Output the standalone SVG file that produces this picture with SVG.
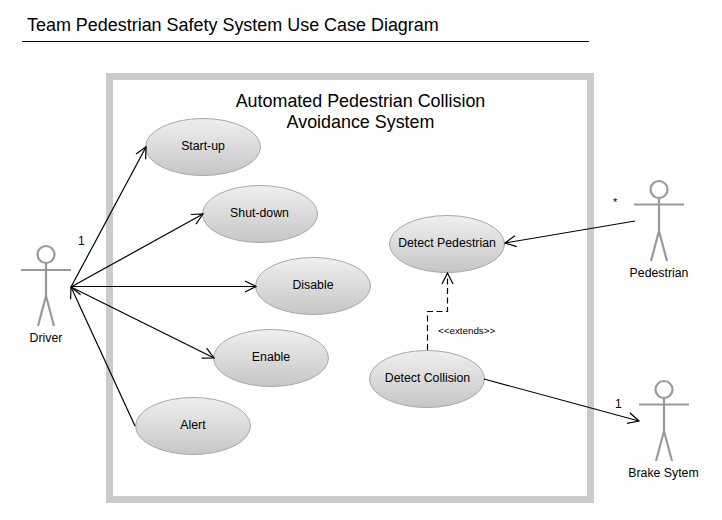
<svg xmlns="http://www.w3.org/2000/svg" width="722" height="520" viewBox="0 0 722 520">
<defs>
<linearGradient id="g" x1="0" y1="0" x2="0" y2="1"><stop offset="0" stop-color="#efefef"/><stop offset="1" stop-color="#c6c6c6"/></linearGradient>
<marker id="a" markerUnits="userSpaceOnUse" markerWidth="16" markerHeight="16" refX="13" refY="8" orient="auto" overflow="visible"><path d="M2 2.5 L13 8 L2 13.5" fill="none" stroke="#000" stroke-width="1.2"/></marker>
</defs>
<style>
text{font-family:"Liberation Sans",Arial,sans-serif;fill:#000}
.uc ellipse{fill:url(#g);stroke:#a8a8a8;stroke-width:1}
.uc text{font-size:12.3px;text-anchor:middle}
.ac path,.ac circle{fill:none;stroke:#999;stroke-width:2.2}
.ac text{font-size:12.3px;text-anchor:middle}
.c{fill:none;stroke:#000;stroke-width:1.2;marker-end:url(#a)}
.m{font-size:12px}
</style>
<rect width="722" height="520" fill="#fff"/>
<g id="title"><text x="27" y="31" style="font-size:17.95px">Team Pedestrian Safety System Use Case Diagram</text>
<path d="M22 41.5H589" stroke="#000" stroke-width="1" fill="none"/></g>
<g id="system"><rect x="109.5" y="76.5" width="481" height="423" fill="#fff" stroke="#cbcbcb" stroke-width="7"/>
<text x="360.500" y="107" text-anchor="middle" style="font-size:17.900px">Automated Pedestrian Collision</text>
<text x="360.500" y="128" text-anchor="middle" style="font-size:17.900px">Avoidance System</text></g>
<g id="startup" class="uc"><ellipse cx="203" cy="147" rx="57.500" ry="28.500"/><text x="203" y="150">Start-up</text></g>
<g id="shutdown" class="uc"><ellipse cx="260" cy="214" rx="57.500" ry="28.500"/><text x="259.500" y="217">Shut-down</text></g>
<g id="disable" class="uc"><ellipse cx="313" cy="286" rx="57.500" ry="28.500"/><text x="313" y="289">Disable</text></g>
<g id="enable" class="uc"><ellipse cx="271" cy="358" rx="57.500" ry="28.500"/><text x="271" y="361">Enable</text></g>
<g id="alert" class="uc"><ellipse cx="193" cy="426" rx="57.500" ry="28.500"/><text x="193" y="429">Alert</text></g>
<g id="detect-pedestrian" class="uc"><ellipse cx="447" cy="244" rx="57.500" ry="28.500"/><text x="447" y="247">Detect Pedestrian</text></g>
<g id="detect-collision" class="uc"><ellipse cx="427" cy="379" rx="57.500" ry="28.500"/><text x="427.500" y="382">Detect Collision</text></g>
<g id="driver" class="ac"><circle cx="46" cy="254.500" r="8.500"/><path d="M21 270H71M46 263V296M46 296L38 326M46 296L54 326"/><text x="46" y="342">Driver</text></g>
<g id="pedestrian" class="ac"><circle cx="659" cy="189.500" r="8.500"/><path d="M634 204.500H684M659 198V231M659 231L651 261M659 231L667 261"/><text x="659" y="277">Pedestrian</text></g>
<g id="brake" class="ac"><circle cx="664" cy="389.500" r="8.500"/><path d="M639 404.500H689M664 398V431M664 431L656 461M664 431L672 461"/><text x="663.500" y="477">Brake Sytem</text></g>
<g id="connectors">
<path class="c" d="M71 287L146 147"/>
<path class="c" d="M71 287L203 214"/>
<path class="c" d="M71 286.500H256"/>
<path class="c" d="M71 287L214 358"/>
<path class="c" d="M135 426L71 287"/>
<path class="c" d="M635 221L505 243"/>
<path class="c" d="M484 379L639 421"/>
<path class="c" stroke-dasharray="6 3.500" d="M427.500 350V311.500H447.500V273"/>
<text x="78" y="245" class="m">1</text>
<text x="613" y="206" class="m" style="font-size:11px">*</text>
<text x="615" y="408" class="m">1</text>
<text x="438" y="334" style="font-size:9.800px">&lt;&lt;extends&gt;&gt;</text>
</g>
</svg>
